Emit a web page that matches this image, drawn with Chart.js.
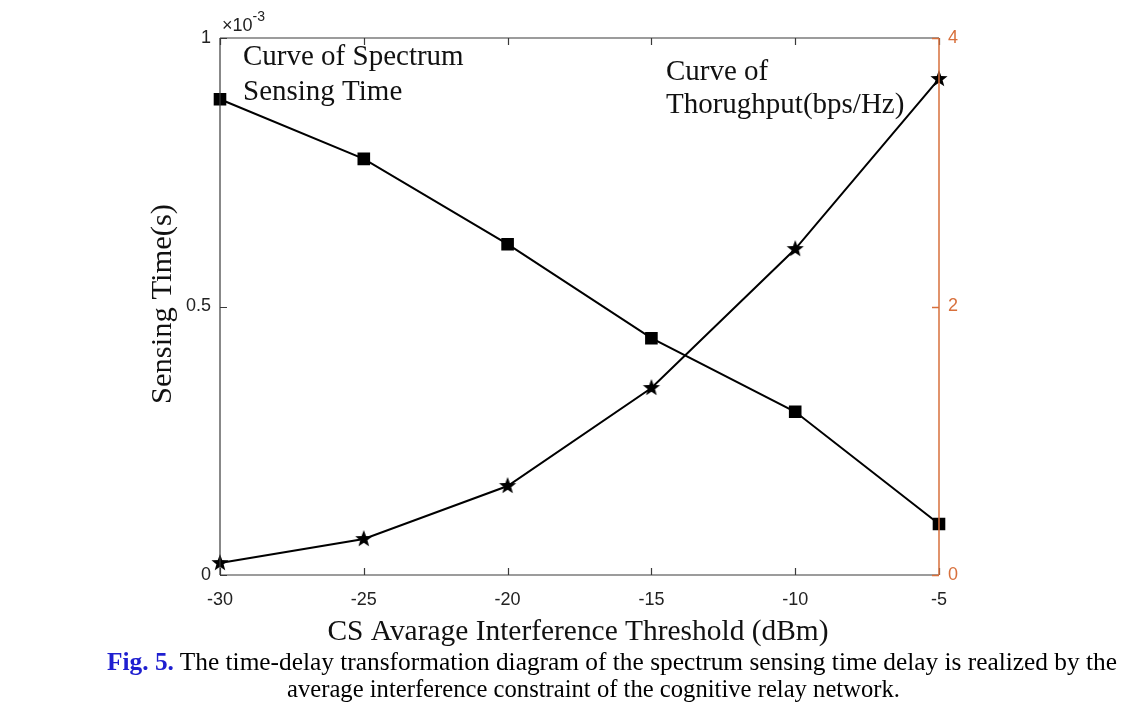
<!DOCTYPE html>
<html>
<head>
<meta charset="utf-8">
<script src="https://cdn.jsdelivr.net/npm/chart.js@4.4.1/dist/chart.umd.min.js"></script>
<style>
  html, body { margin: 0; padding: 0; background: #fff; }
  #wrap { position: relative; width: 1135px; height: 713px; overflow: hidden; }
  #c { position: absolute; left: 0; top: 0; }
  .cap { position: absolute; white-space: nowrap; transform-origin: left center;
         font-family: "Liberation Serif", "Times New Roman", serif; font-size: 26px; line-height: 28px; color: #000; }
  .fig { color: #1f1fd0; font-weight: bold; }
</style>
</head>
<body>
<div id="wrap">
  <canvas id="c" width="1135" height="713"></canvas>
  <div class="cap" style="left:107px; top:648px;" data-w="1010"><span class="fig">Fig. 5.</span> The time-delay transformation diagram of the spectrum sensing time delay is realized by the</div>
  <div class="cap" style="left:287px; top:675px;" data-w="613">average interference constraint of the cognitive relay network.</div>
</div>
<script>
// ---- data ----
const thresholds = [-30, -25, -20, -15, -10, -5];                 // dBm
const sensingTime = [0.886e-3, 0.775e-3, 0.616e-3, 0.441e-3, 0.304e-3, 0.095e-3]; // s
const throughput = [0.089, 0.268, 0.663, 1.393, 2.428, 3.695];    // bps/Hz
const xTicks = [-30, -25, -20, -15, -10, -5];
const leftTicks = [0, 0.5e-3, 1e-3];
const rightTicks = [0, 2, 4];

const xTitle = 'CS Avarage Interference Threshold (dBm)';
const yTitle = 'Sensing Time(s)';
const note1 = ['Curve of Spectrum', 'Sensing Time'];
const note2 = ['Curve of', 'Thorughput(bps/Hz)'];

const ORANGE = '#d8703c';
const AXIS = '#3a3a3a';
const SERIF = '"Liberation Serif", "Times New Roman", serif';
const SANS = '"Liberation Sans", Arial, sans-serif';

// filled five-point star marker
function makeStar(r) {
  const cv = document.createElement('canvas');
  const s = Math.ceil(r * 2 + 2);
  cv.width = s; cv.height = s;
  const g = cv.getContext('2d');
  const cx = s / 2, cy = s / 2, ri = r * 0.42;
  g.beginPath();
  for (let i = 0; i < 10; i++) {
    const rad = i % 2 === 0 ? r : ri;
    const a = -Math.PI / 2 + i * Math.PI / 5;
    const px = cx + rad * Math.cos(a), py = cy + rad * Math.sin(a);
    if (i === 0) g.moveTo(px, py); else g.lineTo(px, py);
  }
  g.closePath();
  g.fillStyle = '#000';
  g.fill();
  return cv;
}
const starImg = makeStar(9);

function fitText(ctx, text, x, y, width) {
  const w = ctx.measureText(text).width;
  ctx.save();
  ctx.translate(x, y);
  ctx.scale(width / w, 1);
  ctx.fillText(text, 0, 0);
  ctx.restore();
}

// Inward ticks, box, annotations
const decor = {
  id: 'decor',
  afterDatasetsDraw(chart) {
    const ctx = chart.ctx;
    const a = chart.chartArea;
    const xs = chart.scales.x, yl = chart.scales.y, yr = chart.scales.y2;
    ctx.save();
    ctx.lineWidth = 1.2;
    ctx.strokeStyle = AXIS;
    ctx.beginPath();
    ctx.moveTo(a.left, a.bottom); ctx.lineTo(a.right, a.bottom);
    ctx.moveTo(a.left, a.top); ctx.lineTo(a.right, a.top);
    ctx.moveTo(a.left, a.top); ctx.lineTo(a.left, a.bottom);
    ctx.stroke();
    const tl = 7;
    ctx.beginPath();
    xTicks.forEach(v => {
      const px = Math.round(xs.getPixelForValue(v)) + 0.5;
      ctx.moveTo(px, a.bottom); ctx.lineTo(px, a.bottom - tl);
      ctx.moveTo(px, a.top); ctx.lineTo(px, a.top + tl);
    });
    leftTicks.forEach(v => {
      const py = Math.round(yl.getPixelForValue(v)) + 0.5;
      ctx.moveTo(a.left, py); ctx.lineTo(a.left + tl, py);
    });
    ctx.stroke();
    ctx.strokeStyle = ORANGE;
    ctx.lineWidth = 1.5;
    ctx.beginPath();
    ctx.moveTo(a.right, a.top); ctx.lineTo(a.right, a.bottom);
    rightTicks.forEach(v => {
      const py = Math.round(yr.getPixelForValue(v)) + 0.5;
      ctx.moveTo(a.right, py); ctx.lineTo(a.right - tl, py);
    });
    ctx.stroke();

    // x10^-3 multiplier
    ctx.fillStyle = '#222';
    ctx.textBaseline = 'alphabetic';
    ctx.textAlign = 'left';
    ctx.font = '18px ' + SANS;
    ctx.fillText('\u00d710', a.left + 2, 31);
    const w = ctx.measureText('\u00d710').width;
    ctx.font = '14px ' + SANS;
    ctx.fillText('-3', a.left + 2 + w, 21);

    // annotations
    ctx.fillStyle = '#111';
    ctx.font = '29px ' + SERIF;
    ctx.textBaseline = 'middle';
    ctx.fillText(note1[0], 243, 57);
    ctx.fillText(note1[1], 243, 92);
    ctx.fillText(note2[0], 666, 72);
    ctx.fillText(note2[1], 666, 105);

    // axis titles
    ctx.font = '29px ' + SERIF;
    ctx.textAlign = 'center';
    fitText(ctx, xTitle, 578, 632, 501);
    ctx.save();
    ctx.translate(163, 304);
    ctx.rotate(-Math.PI / 2);
    fitText(ctx, yTitle, 0, 0, 200);
    ctx.restore();
    ctx.restore();
  }
};

const tickFont = { family: SANS, size: 18 };

const chart = new Chart(document.getElementById('c'), {
  type: 'line',
  data: {
    datasets: [
      {
        label: 'Sensing Time',
        data: thresholds.map((x, i) => ({ x: x, y: sensingTime[i] })),
        yAxisID: 'y',
        borderColor: '#000',
        backgroundColor: '#000',
        borderWidth: 2,
        pointStyle: 'rect',
        pointRadius: 7.5,
        pointHoverRadius: 7.5,
        tension: 0
      },
      {
        label: 'Throughput',
        data: thresholds.map((x, i) => ({ x: x, y: throughput[i] })),
        yAxisID: 'y2',
        borderColor: '#000',
        backgroundColor: '#000',
        borderWidth: 2,
        pointStyle: starImg,
        tension: 0
      }
    ]
  },
  options: {
    responsive: false,
    animation: false,
    events: [],
    clip: false,
    layout: { padding: { top: 38, left: 0, right: 0, bottom: 0 } },
    plugins: { legend: { display: false }, tooltip: { enabled: false } },
    scales: {
      x: {
        type: 'linear',
        min: -30, max: -5,
        afterBuildTicks: s => { s.ticks = xTicks.map(v => ({ value: v })); },
        afterFit: s => { s.height = 713 - 575; },
        grid: { display: false, drawTicks: false },
        border: { display: false },
        ticks: { padding: 14, color: '#222', font: tickFont, callback: v => String(v) }
      },
      y: {
        type: 'linear',
        position: 'left',
        min: 0, max: 1e-3,
        afterBuildTicks: s => { s.ticks = leftTicks.map(v => ({ value: v })); },
        afterFit: s => { s.width = 220; },
        grid: { display: false, drawTicks: false },
        border: { display: false },
        ticks: { padding: 9, color: '#222', font: tickFont,
                 callback: v => String(Math.round(v * 1e4) / 10) }
      },
      y2: {
        type: 'linear',
        position: 'right',
        min: 0, max: 4,
        afterBuildTicks: s => { s.ticks = rightTicks.map(v => ({ value: v })); },
        afterFit: s => { s.width = 1135 - 939; },
        grid: { display: false, drawTicks: false },
        border: { display: false },
        ticks: { padding: 9, color: ORANGE, font: tickFont, callback: v => String(v) }
      }
    }
  },
  plugins: [decor]
});

// fit caption lines to their measured widths
document.querySelectorAll('.cap').forEach(el => {
  const target = parseFloat(el.dataset.w);
  const w = el.getBoundingClientRect().width;
  el.style.transform = 'scaleX(' + (target / w) + ')';
});
</script>
</body>
</html>
